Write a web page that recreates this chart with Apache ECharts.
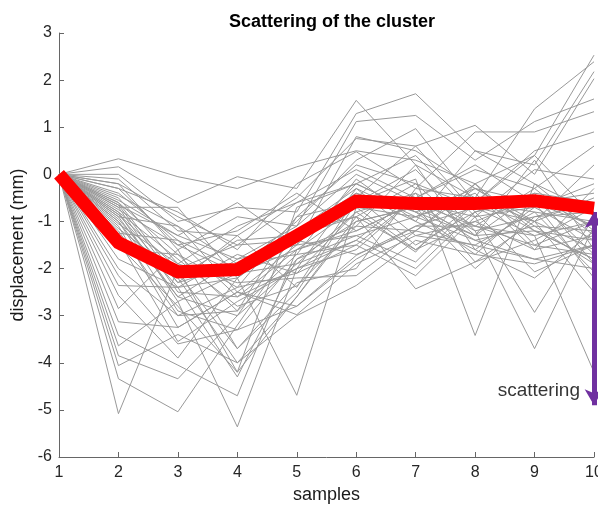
<!DOCTYPE html>
<html>
<head>
<meta charset="utf-8">
<script src="https://cdn.jsdelivr.net/npm/echarts@6/dist/echarts.min.js"></script>
<style>html,body{margin:0;padding:0;background:#fff}#c{width:598px;height:506px}</style>
</head>
<body>
<div id="c"></div>
<script>
const samples = [1, 2, 3, 4, 5, 6, 7, 8, 9, 10];
const yTicks = [-6, -5, -4, -3, -2, -1, 0, 1, 2, 3];
const meanLine = [0, -1.45, -2.07, -2.02, -1.3, -0.57, -0.62, -0.62, -0.56, -0.72];
// each cluster member: values at samples 2..10 (sample 1 is 0 for all)
const members = [
  [0.33, -0.05, -0.3, 0.16, 0.5, 0.3, -0.2, 0.4, 2.53],
  [0.16, -0.6, -0.05, -0.3, 1.57, 0.2, -0.5, 1.39, 2.39],
  [0.0, -1.0, -0.7, -0.8, 1.29, 1.71, 0.5, 0.2, 2.18],
  [-0.1, -1.2, -1.3, -0.5, 0.76, 0.6, 1.04, 0.0, 2.03],
  [-0.2, -1.6, -0.9, -1.1, 1.12, 1.25, 0.3, 1.12, 1.6],
  [-0.3, -0.8, -1.6, -0.2, 0.48, -0.3, 0.9, 0.9, 1.33],
  [-0.4, -1.4, -2.0, -1.0, 0.3, 0.97, -0.6, 0.5, 0.9],
  [-0.5, -1.9, -1.1, -0.6, 0.1, -0.5, 0.1, -0.3, 0.6],
  [-0.55, -1.3, -1.8, -1.5, -0.2, 0.4, -0.9, 0.1, -0.1],
  [-0.6, -2.2, -1.4, -1.3, -0.4, -0.8, -0.3, -0.6, -0.4],
  [-0.6, -1.7, -2.4, -0.9, -0.6, 0.1, -1.2, -0.9, -0.6],
  [-0.65, -2.3, -1.9, -1.7, -0.1, -1.0, 0.5, -0.2, -0.8],
  [-0.7, -0.7, -2.2, -1.2, -0.9, -0.2, -0.7, -1.3, -1.0],
  [-0.7, -2.5, -2.6, -2.0, -0.3, -1.3, -1.0, -0.5, -1.1],
  [-0.75, -1.5, -1.2, -0.4, -1.2, -0.6, -1.4, -1.1, -1.2],
  [-0.8, -2.7, -2.1, -1.6, -0.7, -0.9, -0.4, -1.6, -1.3],
  [-0.8, -1.8, -2.8, -2.37, -1.1, 0.2, -1.6, -0.7, -1.4],
  [-0.85, -2.0, -1.5, -1.4, -0.5, -1.5, -0.8, -2.07, -1.5],
  [-0.9, -2.6, -3.0, -1.9, -1.4, -0.4, -1.86, -1.0, -1.6],
  [-0.9, -1.1, -2.5, -2.8, -1.72, -1.1, -1.1, -1.51, -1.7],
  [-0.95, -2.4, -1.7, -2.1, -0.8, -1.65, -0.2, -1.2, -1.8],
  [-1.0, -2.9, -3.3, -1.8, -1.0, -0.7, -1.3, -0.4, -1.9],
  [-1.05, -1.9, -2.3, -2.2, -2.15, -1.2, -1.51, -1.8, -2.0],
  [-1.1, -3.25, -2.5, -1.5, -1.3, -1.86, -0.6, -0.8, -2.07],
  [-1.15, -2.1, -3.7, -2.5, -0.6, -0.1, -3.42, -0.2, -1.2],
  [-1.2, -3.0, -2.9, -1.7, -1.5, -2.15, -0.9, -2.93, -0.9],
  [-1.3, -2.2, -4.0, -3.0, -2.36, -1.4, -1.7, -0.6, -2.2],
  [-1.4, -3.55, -2.7, -2.0, -1.6, -0.5, -1.2, -3.7, -1.1],
  [-1.5, -2.8, -4.2, -2.6, -0.9, -2.43, -1.86, -1.4, -0.7],
  [-2.15, -3.6, -3.3, -2.8, -1.8, -1.1, -0.7, -1.0, -2.5],
  [-2.36, -2.4, -4.3, -1.8, -1.3, -0.9, -1.4, -1.8, -1.5],
  [-2.57, -3.9, -2.2, -4.69, -0.7, -1.6, -1.0, -1.6, -0.3],
  [-2.85, -1.6, -3.7, -2.3, -2.0, -0.3, -0.5, -1.2, -1.4],
  [-3.13, -3.25, -2.5, -2.98, -1.9, -1.3, -1.5, -0.8, -1.0],
  [-3.42, -4.05, -4.7, -1.6, -1.2, -0.6, -1.1, -1.3, -4.2],
  [-3.64, -2.7, -5.36, -2.0, -1.4, -2.0, -0.8, -0.5, -1.7],
  [-3.85, -4.34, -3.0, -1.2, -0.4, -1.0, -1.6, -2.2, -1.2],
  [-4.06, -3.4, -4.0, -2.6, -1.0, -0.7, -2.0, -0.9, -0.8],
  [-4.34, -5.04, -3.2, -1.4, -1.7, -1.2, -0.3, -1.1, -1.9],
  [-5.08, -2.0, -4.2, -0.7, -0.2, -0.8, -1.3, 0.3, -1.6],
  [-0.45, -1.1, -1.9, -1.2, -0.3, -0.9, -0.5, -1.0, -0.5],
  [-0.3, -1.5, -2.1, -1.9, -0.8, -0.4, -1.1, -0.3, -1.3],
  [-1.0, -2.6, -1.8, -1.1, 0.0, -0.6, -0.9, -0.7, -0.2],
  [-1.25, -1.4, -2.6, -1.6, -1.1, -1.2, -0.2, -1.5, -1.0],
  [-0.85, -2.3, -1.3, -2.4, -0.5, 0.6, -0.8, -0.4, -0.6],
  [-1.6, -1.7, -2.9, -0.9, 0.2, -0.2, -1.3, -1.2, -1.8],
  [-1.8, -2.4, -2.2, -1.3, -0.9, -1.6, -0.6, 0.4, -0.9],
  [-0.2, -0.9, -1.5, -0.6, -0.2, -0.8, -1.7, -1.9, -1.5],
  [-2.0, -3.0, -2.4, -2.1, -1.5, -0.5, 0.2, -0.6, -1.1],
  [-0.65, -1.3, -0.6, -1.5, 0.8, 0.5, -0.3, -1.0, 0.2]
];
const scatterTop = -0.8;
const scatterBottom = -4.9;
const scatterLabelY = -4.59;

const FONT = 'Liberation Sans, Arial, sans-serif';
const chart = echarts.init(document.getElementById('c'));
const series = members.map(function (m) {
  const vals = [0].concat(m);
  return {
    type: 'line',
    data: samples.map(function (x, i) { return [x, vals[i]]; }),
    symbol: 'none',
    silent: true,
    lineStyle: { color: '#999999', width: 1 },
    z: 2
  };
});
series.push({
  type: 'line',
  data: samples.map(function (x, i) { return [x, meanLine[i]]; }),
  symbol: 'none',
  lineStyle: { color: '#ff0000', width: 13, join: 'miter' },
  z: 5
});
series.push({
  type: 'line',
  data: [[10, scatterTop], [10, scatterBottom]],
  symbol: 'none',
  lineStyle: { width: 0, opacity: 0 },
  markLine: {
    silent: true,
    symbol: ['arrow', 'arrow'],
    symbolSize: [14, 16],
    label: { show: false },
    lineStyle: { color: '#7030a0', width: 5, type: 'solid' },
    data: [[{ coord: [10, scatterTop] }, { coord: [10, scatterBottom] }]]
  },
  z: 6
});
series.push({
  type: 'scatter',
  data: [[10, scatterLabelY]],
  symbolSize: 0,
  label: {
    show: true, position: 'left', distance: 14,
    formatter: 'scattering',
    color: '#000', fontSize: 19, fontFamily: FONT
  },
  z: 7
});

chart.setOption({
  animation: false,
  backgroundColor: '#fff',
  title: {
    text: 'Scattering of the cluster',
    left: 327, top: 8, textAlign: 'center',
    textStyle: { fontSize: 18, fontWeight: 'bold', color: '#000', fontFamily: FONT }
  },
  grid: { left: 59, right: 4, top: 33, bottom: 49, containLabel: false, outerBoundsMode: 'none' },
  xAxis: {
    type: 'value', min: 1, max: 10, interval: 1,
    name: 'samples', nameLocation: 'middle', nameGap: 29,
    nameTextStyle: { fontSize: 18, color: '#1a1a1a', fontFamily: FONT },
    axisLine: { onZero: false, lineStyle: { color: '#666', width: 1 } },
    axisTick: { inside: true, length: 5, lineStyle: { color: '#666' } },
    axisLabel: { fontSize: 16, color: '#262626', margin: 8, fontFamily: FONT },
    splitLine: { show: false }
  },
  yAxis: {
    type: 'value', min: yTicks[0], max: yTicks[yTicks.length - 1], interval: 1,
    name: 'displacement (mm)', nameLocation: 'middle', nameGap: 27,
    nameTextStyle: { fontSize: 18, color: '#1a1a1a', fontFamily: FONT },
    axisLine: { show: true, onZero: false, lineStyle: { color: '#666', width: 1 } },
    axisTick: { show: true, inside: true, length: 5, lineStyle: { color: '#666' } },
    axisLabel: { fontSize: 16, color: '#262626', margin: 7, fontFamily: FONT },
    splitLine: { show: false }
  },
  series: series
});
</script>
</body>
</html>
